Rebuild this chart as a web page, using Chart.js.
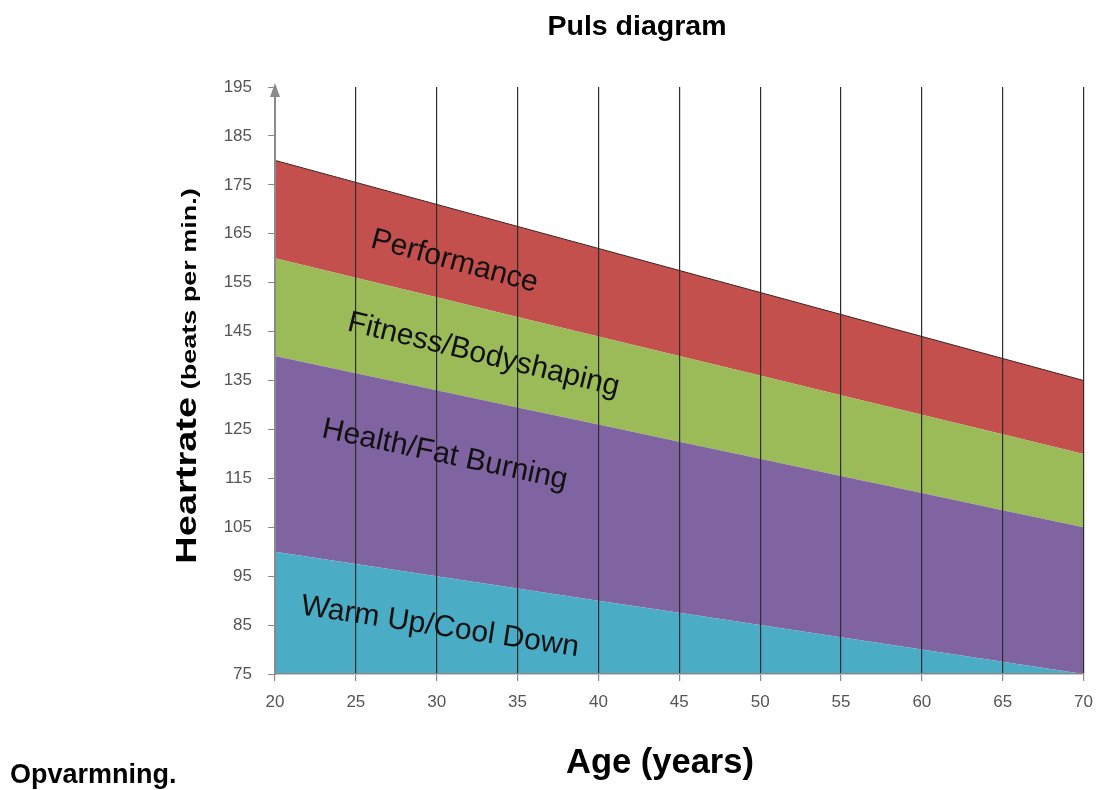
<!DOCTYPE html>
<html>
<head>
<meta charset="utf-8">
<title>Puls diagram</title>
<script src="https://cdn.jsdelivr.net/npm/chart.js@4.4.1/dist/chart.umd.min.js"></script>
<style>
  html, body { margin: 0; padding: 0; background: #fff; }
  canvas { display: block; }
</style>
</head>
<body>
<canvas id="pulsChart" width="1104" height="790"></canvas>
<script>
// Age (years) on x, heart rate zone boundaries (beats per min.) on y
const ages = [20, 25, 30, 35, 40, 45, 50, 55, 60, 65, 70];
const warmUpTop = [100, 97.5, 95, 92.5, 90, 87.5, 85, 82.5, 80, 77.5, 75];
const healthTop = [140, 136.5, 133, 129.5, 126, 122.5, 119, 115.5, 112, 108.5, 105];
const fitnessTop = [160, 156, 152, 148, 144, 140, 136, 132, 128, 124, 120];
const performanceTop = [180, 175.5, 171, 166.5, 162, 157.5, 153, 148.5, 144, 139.5, 135];
const zoneNames = ['Warm Up/Cool Down', 'Health/Fat Burning', 'Fitness/Bodyshaping', 'Performance'];
const xTickStep = 5;
const yTickStep = 10;

function points(values) {
    return ages.map((a, i) => ({x: a, y: values[i]}));
}

const FONT = '"Liberation Sans", Arial, sans-serif';

// where each zone name sits (age, bpm) - label follows the slope of the zone's top line
const zoneLabelSpots = [
    {age: 30.2, bpm: 84.6, top: warmUpTop},
    {age: 30.5, bpm: 119.8, top: healthTop},
    {age: 32.9, bpm: 140.2, top: fitnessTop},
    {age: 31.1, bpm: 159.3, top: performanceTop}
];

const extrasPlugin = {
    id: 'extras',
    afterDraw(chart) {
        const ctx = chart.ctx;
        const xs = chart.scales.x;
        const ys = chart.scales.y;
        const area = chart.chartArea;

        // arrow head on top of the y axis
        ctx.save();
        ctx.fillStyle = '#8a8a8a';
        ctx.beginPath();
        ctx.moveTo(area.left, area.top - 4);
        ctx.lineTo(area.left - 5, area.top + 10);
        ctx.lineTo(area.left + 5, area.top + 10);
        ctx.closePath();
        ctx.fill();
        ctx.restore();

        // zone names, rotated along the bands
        zoneLabelSpots.forEach((spot, i) => {
            const top = spot.top;
            const x0 = xs.getPixelForValue(ages[0]);
            const x1 = xs.getPixelForValue(ages[ages.length - 1]);
            const y0 = ys.getPixelForValue(top[0]);
            const y1 = ys.getPixelForValue(top[top.length - 1]);
            const angle = Math.atan2(y1 - y0, x1 - x0);
            ctx.save();
            ctx.translate(xs.getPixelForValue(spot.age), ys.getPixelForValue(spot.bpm));
            ctx.rotate(angle);
            ctx.font = '30px ' + FONT;
            ctx.fillStyle = '#111';
            ctx.textAlign = 'center';
            ctx.textBaseline = 'middle';
            ctx.fillText(zoneNames[i], 0, 0);
            ctx.restore();
        });

        ctx.save();
        ctx.fillStyle = '#000';
        ctx.textBaseline = 'alphabetic';

        // title
        ctx.font = 'bold 28.5px ' + FONT;
        ctx.textAlign = 'center';
        ctx.fillText('Puls diagram', 637, 35);

        // x axis title
        ctx.font = 'bold 34.5px ' + FONT;
        ctx.fillText('Age (years)', 660, 773);

        // note at the bottom left
        ctx.font = 'bold 27px ' + FONT;
        ctx.textAlign = 'left';
        ctx.fillText('Opvarmning.', 10, 783);

        // y axis title, two sizes, a bit squeezed across the text
        ctx.translate(196, 376);
        ctx.rotate(-Math.PI / 2);
        ctx.scale(1, 0.78);
        const big = 'Heartrate';
        const small = ' (beats per min.)';
        ctx.font = 'bold 38px ' + FONT;
        const wBig = ctx.measureText(big).width;
        ctx.font = 'bold 27px ' + FONT;
        const wSmall = ctx.measureText(small).width;
        let start = -(wBig + wSmall) / 2;
        ctx.font = 'bold 38px ' + FONT;
        ctx.fillText(big, start, 0);
        ctx.font = 'bold 27px ' + FONT;
        ctx.fillText(small, start + wBig, 0);
        ctx.restore();
    }
};

new Chart(document.getElementById('pulsChart'), {
    type: 'line',
    data: {
        datasets: [
            {
                label: zoneNames[0],
                data: points(warmUpTop),
                backgroundColor: '#4bacc6',
                borderWidth: 0,
                fill: 'start'
            },
            {
                label: zoneNames[1],
                data: points(healthTop),
                backgroundColor: '#8064a2',
                borderWidth: 0,
                fill: '-1'
            },
            {
                label: zoneNames[2],
                data: points(fitnessTop),
                backgroundColor: '#9bbb59',
                borderWidth: 0,
                fill: '-1'
            },
            {
                label: zoneNames[3],
                data: points(performanceTop),
                backgroundColor: '#c4504e',
                borderColor: '#3c2323',
                borderWidth: 1,
                fill: '-1'
            }
        ]
    },
    options: {
        responsive: false,
        devicePixelRatio: 1,
        animation: false,
        elements: {
            point: {radius: 0},
            line: {tension: 0}
        },
        layout: {
            padding: {left: 205, right: 17, top: 87, bottom: 66}
        },
        plugins: {
            legend: {display: false},
            tooltip: {enabled: false},
            title: {display: false}
        },
        scales: {
            x: {
                type: 'linear',
                min: 20,
                max: 70,
                afterFit: s => { s.height = 50; },
                ticks: {
                    stepSize: xTickStep,
                    color: '#555',
                    padding: 11,
                    font: {family: FONT, size: 17}
                },
                grid: {
                    z: 1,
                    color: c => (c.tick && c.tick.value === 20) ? 'rgba(0,0,0,0)' : '#2e2e2e',
                    lineWidth: 1.2,
                    tickLength: 7,
                    tickColor: '#8a8a8a'
                },
                border: {color: '#8a8a8a', width: 1.5, z: 2}
            },
            y: {
                min: 75,
                max: 195,
                afterFit: s => { s.width = 70; },
                ticks: {
                    stepSize: yTickStep,
                    color: '#555',
                    padding: 16,
                    font: {family: FONT, size: 17}
                },
                grid: {
                    z: 1,
                    drawOnChartArea: false,
                    tickLength: 7,
                    tickColor: '#8a8a8a'
                },
                border: {color: '#8a8a8a', width: 2, z: 2}
            }
        }
    },
    plugins: [extrasPlugin]
});
</script>
</body>
</html>
